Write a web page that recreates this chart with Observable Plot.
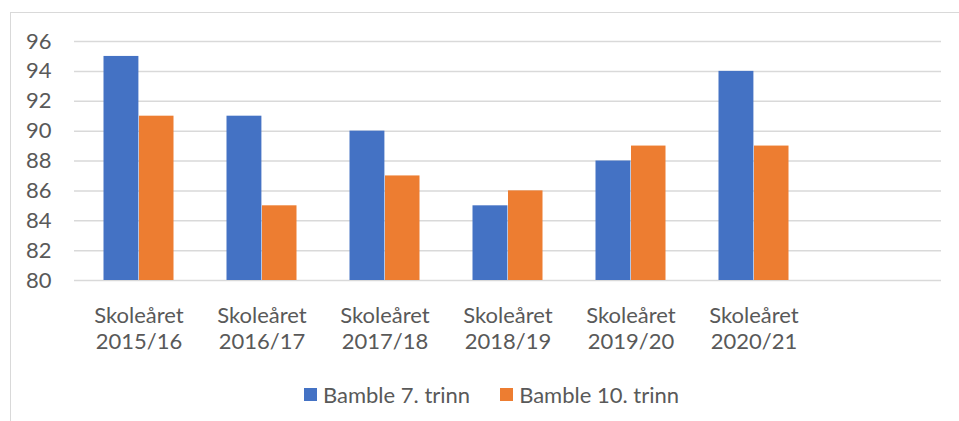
<!DOCTYPE html>
<html><head><meta charset="utf-8">
<script src="https://cdn.jsdelivr.net/npm/d3@7"></script>
<script src="https://cdn.jsdelivr.net/npm/@observablehq/plot@0.6"></script>
<style>
body{margin:0;background:#fff;font-family:Lato,"Open Sans",sans-serif;}
#wrap{position:relative;width:959px;height:421px;overflow:hidden;}
#frame{position:absolute;left:10px;top:12px;width:960px;height:420px;border-top:1px solid #d9d9d9;border-left:1px solid #d9d9d9;}
#chart{position:absolute;left:0;top:0;}
#legend{position:absolute;top:379px;left:12px;width:959px;text-align:center;font-size:22px;color:#595959;}
#legend span.item{display:inline-flex;align-items:center;margin:0 15px;}
#legend span.sw{display:inline-block;width:13px;height:13px;margin-right:6px;}
</style></head>
<body>
<div id="wrap"><div id="frame"></div><div id="chart"></div>
<div id="legend"></div></div>
<script>
const categories = ["2015/16","2016/17","2017/18","2018/19","2019/20","2020/21"];
const series = ["Bamble 7. trinn","Bamble 10. trinn"];
const trinn7 = [95,91,90,85,88,94];
const trinn10 = [91,85,87,86,89,89];
const yTicks = [80,82,84,86,88,90,92,94,96];
const colors = ["#4472C4","#ED7D31"];

const d7 = categories.map((c,i)=>({cat:c, value:trinn7[i]}));
const d10 = categories.map((c,i)=>({cat:c, value:trinn10[i]}));

const plot = Plot.plot({
  width:959, height:365,
  marginLeft:74, marginRight:18, marginTop:41, marginBottom:85,
  style:{fontFamily:"Lato, 'Open Sans', sans-serif", fontSize:"22px", color:"#595959", background:"transparent"},
  x:{domain:[...categories, ""], padding:0},
  y:{domain:[80,96]},
  marks:[
    Plot.ruleY(yTicks, {stroke:"#d9d9d9", strokeWidth:1.5}),
    Plot.barY(d7, {x:"cat", y1:80, y2:"value", fill:colors[0], insetLeft:26.5, insetRight:61.6}),
    Plot.barY(d10, {x:"cat", y1:80, y2:"value", fill:colors[1], insetLeft:62, insetRight:26.5}),
    Plot.axisY({ticks:yTicks, tickSize:0, tickPadding:23, label:null, fontSize:22}),
    Plot.axisX({tickSize:0, tickPadding:23, label:null, fontSize:22, lineHeight:1.22,
      tickFormat: d => d ? "Skoleåret\n" + d : ""})
  ]
});
document.getElementById("chart").appendChild(plot);

const leg = document.getElementById("legend");
series.forEach((s,i)=>{
  const it = document.createElement("span"); it.className="item";
  const sw = document.createElement("span"); sw.className="sw"; sw.style.background=colors[i];
  it.appendChild(sw); it.appendChild(document.createTextNode(s));
  leg.appendChild(it);
});
</script>
</body></html>
